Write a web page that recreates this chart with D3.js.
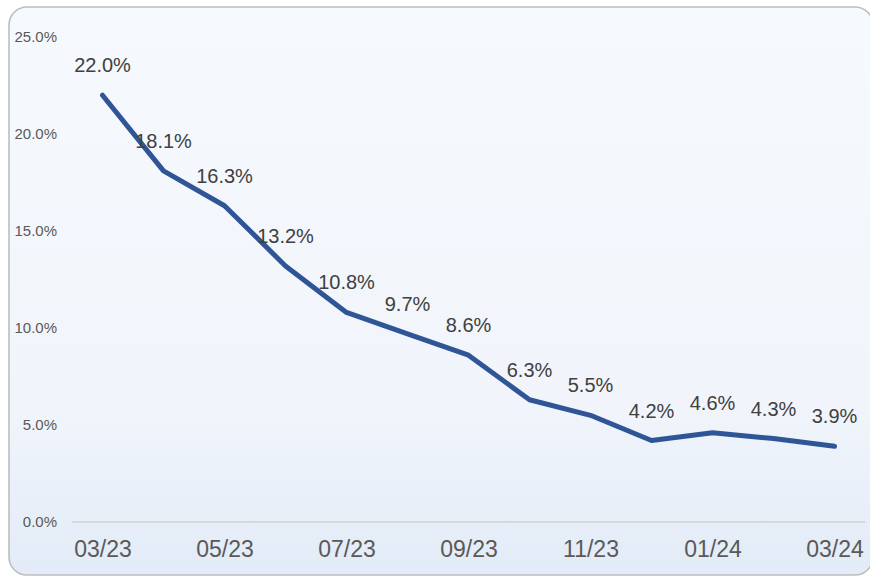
<!DOCTYPE html>
<html><head><meta charset="utf-8">
<script src="https://cdn.jsdelivr.net/npm/d3@7"></script>
<style>html,body{margin:0;padding:0;background:#fff;overflow:hidden}svg{display:block}</style>
</head><body>
<script>
const months = ["03/23","04/23","05/23","06/23","07/23","08/23","09/23","10/23","11/23","12/23","01/24","02/24","03/24"];
const values = [22.0,18.1,16.3,13.2,10.8,9.7,8.6,6.3,5.5,4.2,4.6,4.3,3.9];
const yTicks = [0,5,10,15,20,25];
const xTickLabels = ["03/23","05/23","07/23","09/23","11/23","01/24","03/24"];

const W = 870, H = 576;
const svg = d3.select("body").append("svg").attr("width", W).attr("height", H);
const defs = svg.append("defs");
const g = defs.append("linearGradient").attr("id","bg").attr("x1",0).attr("y1",0).attr("x2",0).attr("y2",1);
g.append("stop").attr("offset","0%").attr("stop-color","#f6f9fd");
g.append("stop").attr("offset","70%").attr("stop-color","#f1f5fb");
g.append("stop").attr("offset","100%").attr("stop-color","#e2ebf7");

svg.append("rect").attr("x",9).attr("y",7).attr("width",864).attr("height",568).attr("rx",18)
  .attr("fill","url(#bg)").attr("stroke","#bdbdbd").attr("stroke-width",1.6);

const x = d3.scalePoint().domain(months).range([72,865]).padding(0.5);
const y = d3.scaleLinear().domain([0,25]).range([522,37]);

// baseline
svg.append("line").attr("x1",72).attr("x2",865).attr("y1",y(0)).attr("y2",y(0))
  .attr("stroke","#d9d9d9").attr("stroke-width",2);

// y axis labels
const yAxis = d3.axisLeft(y).tickValues(yTicks).tickFormat(d => d.toFixed(1) + "%").tickSize(0).tickPadding(0);
const ya = svg.append("g").attr("transform","translate(57,0)").call(yAxis);
ya.select(".domain").remove();
ya.selectAll("text").attr("font-family","Liberation Sans, Arial, sans-serif").attr("font-size",15).attr("fill","#595959");

// x axis labels
const xAxis = d3.axisBottom(x).tickValues(xTickLabels).tickSize(0).tickPadding(0);
const xa = svg.append("g").attr("transform","translate(0,540)").call(xAxis);
xa.select(".domain").remove();
xa.selectAll("text").attr("font-family","Liberation Sans, Arial, sans-serif").attr("font-size",23).attr("fill","#595959").attr("dy","0.75em");

// line
const line = d3.line().x((d,i)=>x(months[i])).y(d=>y(d));
svg.append("path").datum(values).attr("d",line).attr("fill","none")
  .attr("stroke","#2f5597").attr("stroke-width",5).attr("stroke-linejoin","round").attr("stroke-linecap","round");

// data labels
svg.append("g").selectAll("text").data(values).join("text")
  .attr("x",(d,i)=>x(months[i])).attr("y",d=>y(d)-30).attr("dy","0.35em")
  .attr("text-anchor","middle").attr("font-family","Liberation Sans, Arial, sans-serif")
  .attr("font-size",20).attr("fill","#404040").text(d=>d.toFixed(1)+"%");
</script>
</body></html>
